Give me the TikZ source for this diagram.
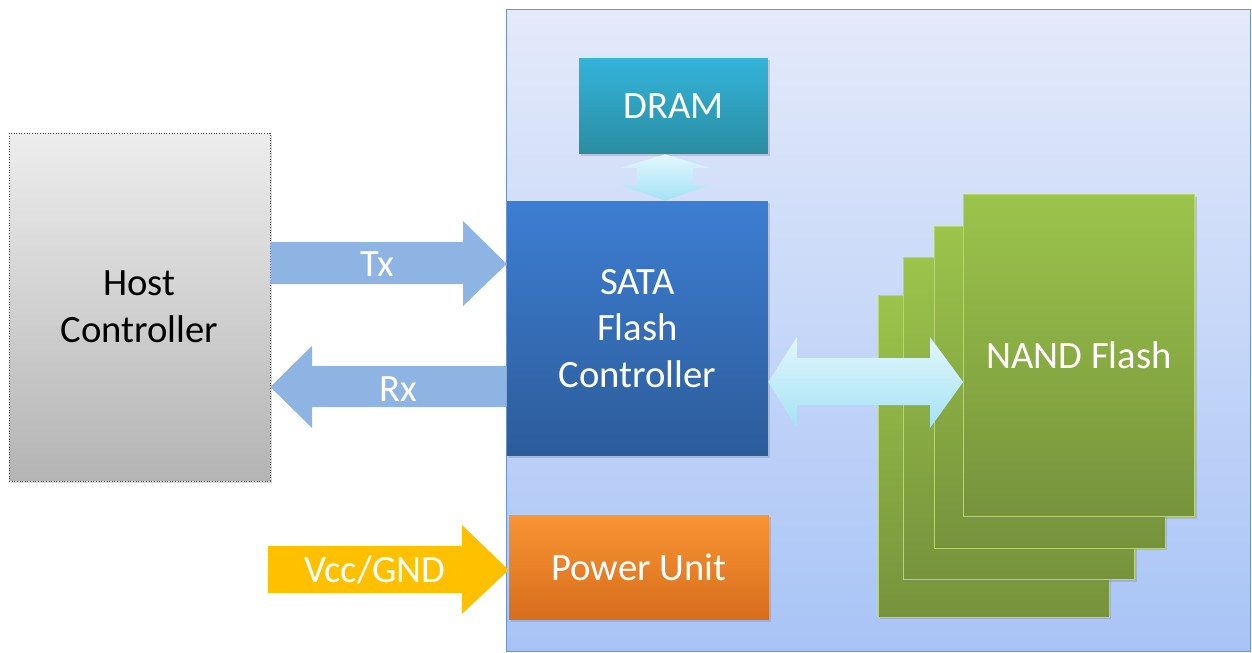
\documentclass[tikz,border=0pt]{standalone}
\usepackage{fontspec}
\setmainfont{Carlito}
\usetikzlibrary{shadows}

\definecolor{ssdtop}{HTML}{E4EAFA}
\definecolor{ssdbot}{HTML}{A8C4F6}
\definecolor{ssdline}{HTML}{6A93D4}
\definecolor{hosttop}{HTML}{EDEDED}
\definecolor{hostbot}{HTML}{B4B4B4}
\definecolor{linkblue}{HTML}{8EB4E3}
\definecolor{dramtop}{HTML}{33B4DA}
\definecolor{drambot}{HTML}{2A8DA2}
\definecolor{satatop}{HTML}{3D7ED2}
\definecolor{satabot}{HTML}{2C5C9A}
\definecolor{nandtop}{HTML}{9CC44B}
\definecolor{nandbot}{HTML}{76933C}
\definecolor{nandline}{HTML}{B7D672}
\definecolor{powtop}{HTML}{F79433}
\definecolor{powbot}{HTML}{D86D1C}
\definecolor{vccgold}{HTML}{FFC000}
\definecolor{bustop}{HTML}{E2F7FD}
\definecolor{busbot}{HTML}{A4E2F5}

\tikzset{
  txt/.style={font=\fontsize{22}{26.5}\selectfont},
  box/.style={rectangle, inner sep=0pt, align=center, text=white, txt,
    drop shadow={opacity=0.3, shadow xshift=1.2pt, shadow yshift=-1.2pt}},
  arrowlabel/.style={text=white, txt, inner sep=0pt},
  busarrow/.style={top color=bustop, bottom color=busbot}
}

\begin{document}
\begin{tikzpicture}[x=0.02cm,y=-0.02cm]
  \useasboundingbox (0,0) rectangle (1252,653);

  % drive
  \node[rectangle, draw=ssdline, line width=0.6pt, top color=ssdtop, bottom color=ssdbot,
        minimum width=14.9cm, minimum height=12.86cm] (ssd) at (878.5,330.5) {};

  % host side
  \node[box, text=black, draw=black!70, densely dotted, line width=0.5pt,
        top color=hosttop, bottom color=hostbot,
        minimum width=5.22cm, minimum height=6.96cm] (host) at (139.5,307) {Host\\Controller};

  % blocks inside the drive
  \node[box, top color=dramtop, bottom color=drambot,
        minimum width=3.78cm, minimum height=1.92cm] (dram) at (673.5,106) {DRAM};
  \node[box, top color=satatop, bottom color=satabot,
        minimum width=5.22cm, minimum height=5.10cm] (sata) at (637.5,328.5) {SATA\\Flash\\Controller};
  \node[box, top color=powtop, bottom color=powbot,
        minimum width=5.2cm, minimum height=2.1cm] (power) at (639,567.5) {Power Unit};

  % flash stack, back to front
  \foreach \n/\cx/\cy in {4/993.5/456, 3/1019/418.5, 2/1049.5/387}
    \node[box, draw=nandline, line width=0.4pt, top color=nandtop, bottom color=nandbot,
          minimum width=4.62cm, minimum height=6.44cm] (nand\n) at (\cx,\cy) {};
  \node[box, draw=nandline, line width=0.4pt, top color=nandtop, bottom color=nandbot,
        minimum width=4.62cm, minimum height=6.44cm] (nand1) at (1079,355.5) {NAND Flash};

  % Tx / Rx
  \fill[linkblue] (host.east |- 0,242) -- (463,242) -- (463,221) -- (sata.west |- 0,264)
    -- (463,306) -- (463,284) -- (host.east |- 0,284) -- cycle;
  \node[arrowlabel] (tx) at (377,264) {Tx};
  \fill[linkblue] (sata.west |- 0,366) -- (312,366) -- (312,346) -- (host.east |- 0,387)
    -- (312,428) -- (312,407) -- (sata.west |- 0,407) -- cycle;
  \node[arrowlabel] (rx) at (398,389) {Rx};

  % supply
  \coordinate (vcc) at (268,570);
  \fill[vccgold] (vcc |- 0,546) -- (462,546) -- (462,525) -- (power.west |- vcc)
    -- (462,614) -- (462,593) -- (vcc |- 0,593) -- cycle;
  \node[arrowlabel] (gnd) at (375,570) {Vcc/GND};

  % buses
  \shade[busarrow] (665,0 |- dram.south) -- (710,168) -- (693,168) -- (693,185) -- (710,185)
    -- (665,0 |- sata.north) -- (620,185) -- (637,185) -- (637,168) -- (620,168) -- cycle;
  \shade[busarrow] (sata.east |- 0,382) -- (797,337) -- (797,358) -- (930,358) -- (930,337)
    -- (nand1.west |- 0,382) -- (930,428) -- (930,405) -- (797,405) -- (797,428) -- cycle;
\end{tikzpicture}
\end{document}
